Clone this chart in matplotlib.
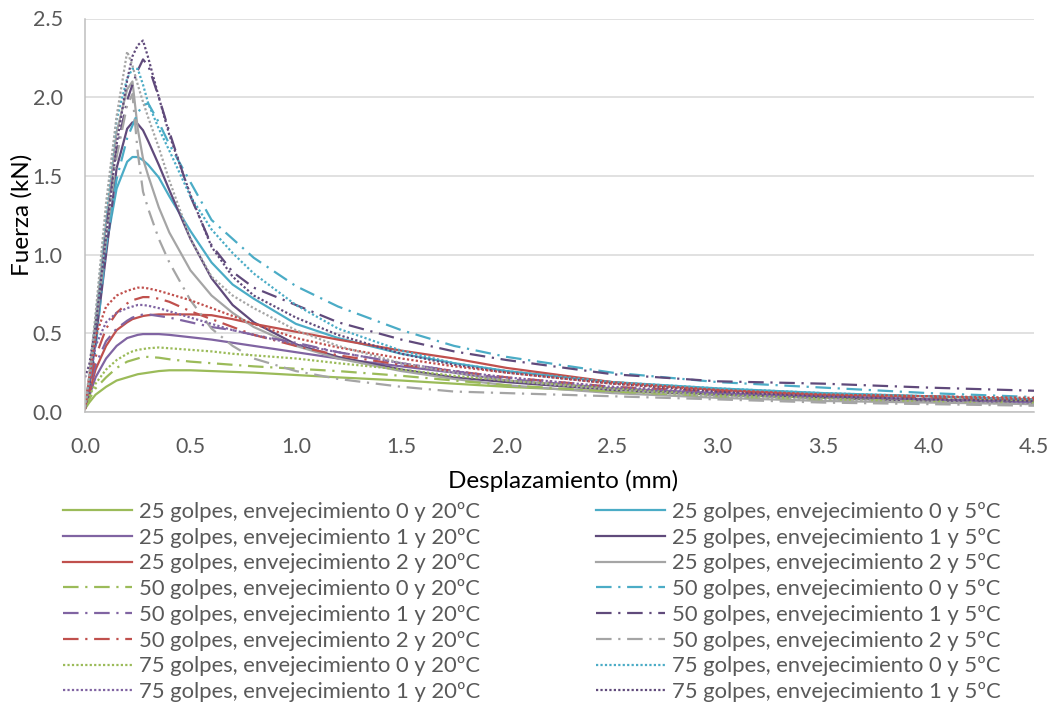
import matplotlib
matplotlib.use("Agg")
import matplotlib.pyplot as plt
from matplotlib.ticker import FormatStrFormatter, MultipleLocator

plt.rcParams['font.family'] = ['Lato', 'DejaVu Sans']

# desplazamiento (mm) - same sampling for every curve
disp = [0, 0.02, 0.05, 0.1, 0.15, 0.2, 0.225, 0.25, 0.275, 0.3, 0.35, 0.4, 0.5,
        0.6, 0.7, 0.8, 1.0, 1.2, 1.5, 1.75, 2.0, 2.5, 3.0, 3.5, 4.0, 4.5]

# fuerza (kN), 20 ºC
f25_e0_20 = [0.02, 0.06, 0.11, 0.16, 0.20, 0.22, 0.23, 0.24, 0.245, 0.25, 0.26, 0.265, 0.265,
             0.26, 0.255, 0.25, 0.235, 0.22, 0.20, 0.18, 0.16, 0.13, 0.11, 0.09, 0.08, 0.07]
f25_e1_20 = [0.02, 0.10, 0.22, 0.34, 0.42, 0.47, 0.48, 0.49, 0.495, 0.495, 0.495, 0.49, 0.475,
             0.46, 0.44, 0.42, 0.38, 0.34, 0.29, 0.25, 0.20, 0.15, 0.12, 0.10, 0.08, 0.06]
f25_e2_20 = [0.02, 0.12, 0.27, 0.42, 0.52, 0.57, 0.59, 0.60, 0.61, 0.615, 0.62, 0.62, 0.62,
             0.615, 0.59, 0.56, 0.51, 0.46, 0.39, 0.34, 0.28, 0.19, 0.14, 0.11, 0.10, 0.08]
f50_e0_20 = [0.02, 0.08, 0.15, 0.22, 0.28, 0.32, 0.33, 0.34, 0.35, 0.35, 0.345, 0.335, 0.32,
             0.31, 0.30, 0.29, 0.275, 0.26, 0.23, 0.20, 0.17, 0.13, 0.10, 0.08, 0.07, 0.06]
f50_e1_20 = [0.02, 0.14, 0.30, 0.45, 0.53, 0.58, 0.60, 0.61, 0.62, 0.62, 0.61, 0.60, 0.57,
             0.54, 0.52, 0.49, 0.44, 0.38, 0.31, 0.26, 0.21, 0.15, 0.11, 0.09, 0.08, 0.06]
f50_e2_20 = [0.02, 0.16, 0.35, 0.53, 0.63, 0.69, 0.71, 0.72, 0.73, 0.73, 0.72, 0.70, 0.64,
             0.59, 0.54, 0.49, 0.42, 0.36, 0.30, 0.26, 0.22, 0.16, 0.13, 0.11, 0.09, 0.08]
f75_e0_20 = [0.02, 0.10, 0.18, 0.27, 0.33, 0.37, 0.385, 0.395, 0.40, 0.405, 0.41, 0.405, 0.395,
             0.385, 0.37, 0.36, 0.34, 0.31, 0.27, 0.23, 0.20, 0.15, 0.11, 0.09, 0.08, 0.07]
f75_e1_20 = [0.02, 0.20, 0.42, 0.57, 0.63, 0.66, 0.67, 0.68, 0.68, 0.675, 0.66, 0.64, 0.60,
             0.56, 0.52, 0.49, 0.43, 0.38, 0.31, 0.26, 0.22, 0.16, 0.12, 0.10, 0.08, 0.06]
f75_e2_20 = [0.02, 0.22, 0.48, 0.67, 0.74, 0.77, 0.78, 0.79, 0.79, 0.785, 0.77, 0.75, 0.71,
             0.66, 0.61, 0.56, 0.47, 0.41, 0.34, 0.29, 0.25, 0.18, 0.14, 0.11, 0.10, 0.09]

# fuerza (kN), 5 ºC
f25_e0_5 = [0.03, 0.18, 0.52, 1.05, 1.42, 1.59, 1.62, 1.62, 1.60, 1.57, 1.49, 1.37, 1.15,
            0.95, 0.81, 0.72, 0.56, 0.47, 0.37, 0.31, 0.26, 0.19, 0.15, 0.12, 0.10, 0.08]
f25_e1_5 = [0.03, 0.15, 0.45, 1.00, 1.55, 1.80, 1.84, 1.83, 1.79, 1.72, 1.57, 1.41, 1.10,
            0.85, 0.68, 0.57, 0.43, 0.35, 0.27, 0.22, 0.19, 0.14, 0.11, 0.09, 0.07, 0.06]
f25_e2_5 = [0.03, 0.22, 0.58, 1.20, 1.78, 2.05, 2.10, 1.80, 1.61, 1.50, 1.30, 1.14, 0.90,
            0.74, 0.63, 0.54, 0.42, 0.34, 0.26, 0.21, 0.17, 0.12, 0.09, 0.07, 0.06, 0.05]
f50_e0_5 = [0.03, 0.12, 0.40, 1.05, 1.48, 1.74, 1.82, 1.90, 1.95, 1.96, 1.84, 1.70, 1.46,
            1.22, 1.10, 0.98, 0.80, 0.67, 0.52, 0.42, 0.35, 0.25, 0.19, 0.155, 0.12, 0.095]
f50_e1_5 = [0.03, 0.12, 0.45, 1.15, 1.66, 1.98, 2.08, 2.17, 2.24, 2.20, 2.00, 1.78, 1.37,
            1.06, 0.89, 0.79, 0.68, 0.57, 0.46, 0.385, 0.33, 0.24, 0.195, 0.18, 0.155, 0.135]
f50_e2_5 = [0.03, 0.18, 0.52, 1.10, 1.62, 1.95, 2.02, 1.65, 1.40, 1.29, 1.10, 0.95, 0.71,
            0.53, 0.42, 0.34, 0.26, 0.21, 0.16, 0.13, 0.12, 0.10, 0.08, 0.06, 0.05, 0.04]
f75_e0_5 = [0.03, 0.20, 0.60, 1.28, 1.86, 2.12, 2.18, 2.18, 2.08, 1.96, 1.80, 1.66, 1.37,
            1.16, 1.01, 0.88, 0.68, 0.53, 0.39, 0.31, 0.26, 0.19, 0.15, 0.12, 0.10, 0.08]
f75_e1_5 = [0.22, 0.30, 0.55, 1.11, 1.70, 2.11, 2.26, 2.33, 2.36, 2.25, 2.00, 1.76, 1.38,
            1.05, 0.86, 0.74, 0.60, 0.49, 0.37, 0.30, 0.25, 0.18, 0.13, 0.10, 0.08, 0.07]
f75_e2_5 = [0.03, 0.24, 0.62, 1.33, 1.88, 2.29, 2.20, 2.08, 1.97, 1.87, 1.68, 1.47, 1.10,
            0.86, 0.74, 0.66, 0.52, 0.42, 0.31, 0.25, 0.20, 0.14, 0.10, 0.08, 0.065, 0.05]

green, purple, red = '#9BBB59', '#8064A2', '#C0504D'
cyan, dpurple, gray = '#4BACC6', '#604A7B', '#A5A5A5'

solid = dict(ls='-', lw=1.6)
dashdot = dict(ls=(0, (7, 3, 1, 3)), lw=1.6)
dotted = dict(ls=(0, (1, 1)), lw=1.6)

fig = plt.figure(figsize=(10.52, 7.04), dpi=100)
ax = fig.add_axes([85 / 1052, 1 - 412 / 704, 949 / 1052, 393.5 / 704])

series = [
    (f25_e0_20, green, solid, '25 golpes, envejecimiento 0 y 20ºC'),
    (f25_e0_5, cyan, solid, '25 golpes, envejecimiento 0 y 5ºC'),
    (f25_e1_20, purple, solid, '25 golpes, envejecimiento 1 y 20ºC'),
    (f25_e1_5, dpurple, solid, '25 golpes, envejecimiento 1 y 5ºC'),
    (f25_e2_20, red, solid, '25 golpes, envejecimiento 2 y 20ºC'),
    (f25_e2_5, gray, solid, '25 golpes, envejecimiento 2 y 5ºC'),
    (f50_e0_20, green, dashdot, '50 golpes, envejecimiento 0 y 20ºC'),
    (f50_e0_5, cyan, dashdot, '50 golpes, envejecimiento 0 y 5ºC'),
    (f50_e1_20, purple, dashdot, '50 golpes, envejecimiento 1 y 20ºC'),
    (f50_e1_5, dpurple, dashdot, '50 golpes, envejecimiento 1 y 5ºC'),
    (f50_e2_20, red, dashdot, '50 golpes, envejecimiento 2 y 20ºC'),
    (f50_e2_5, gray, dashdot, '50 golpes, envejecimiento 2 y 5ºC'),
    (f75_e0_20, green, dotted, '75 golpes, envejecimiento 0 y 20ºC'),
    (f75_e0_5, cyan, dotted, '75 golpes, envejecimiento 0 y 5ºC'),
    (f75_e1_20, purple, dotted, '75 golpes, envejecimiento 1 y 20ºC'),
    (f75_e1_5, dpurple, dotted, '75 golpes, envejecimiento 1 y 5ºC'),
    (f75_e2_20, red, dotted, '75 golpes, envejecimiento 2 y 20ºC'),
    (f75_e2_5, gray, dotted, '75 golpes, envejecimiento 2 y 5ºC'),
]

lines = []
for vals, col, style, lab in series:
    ln, = ax.plot(disp, vals, color=col, label=lab, **style)
    lines.append(ln)

ax.set_xlim(0, 4.5)
ax.set_ylim(0, 2.5)
ax.xaxis.set_major_locator(MultipleLocator(0.5))
ax.yaxis.set_major_locator(MultipleLocator(0.5))
ax.xaxis.set_major_formatter(FormatStrFormatter('%.1f'))
ax.yaxis.set_major_formatter(FormatStrFormatter('%.1f'))
ax.grid(axis='y', color='#D9D9D9', lw=1.1)
ax.set_axisbelow(True)
for s in ['top', 'right']:
    ax.spines[s].set_visible(False)
for s in ['left', 'bottom']:
    ax.spines[s].set_color('#BFBFBF')
    ax.spines[s].set_linewidth(1.1)
ax.tick_params(axis='both', length=0, labelsize=15.5, labelcolor='#595959')
ax.tick_params(axis='y', pad=16)
ax.tick_params(axis='x', pad=18)

ax.set_xlabel('Desplazamiento (mm)', fontsize=17.5, color='black')
ax.xaxis.set_label_coords((563 - 85) / 949, -(481 - 412) / 393.5)
ax.xaxis.label.set_va('center')
ax.set_ylabel('Fuerza (kN)', fontsize=17.5, color='black')
ax.yaxis.set_label_coords((22 - 85) / 949, (412 - 215) / 393.5)
ax.yaxis.label.set_va('center')

# Excel legend shows 12 entries in two columns (20 ºC left, 5 ºC right)
left_idx = [0, 2, 4, 6, 8, 10, 12, 14]
right_idx = [1, 3, 5, 7, 9, 11, 13, 15]
leg_kw = dict(loc='upper left', frameon=False, fontsize=15.8, borderpad=0,
              borderaxespad=0, handlelength=3.15, handletextpad=0.33,
              labelspacing=0.26, labelcolor='#595959')
leg1 = fig.legend([lines[i] for i in left_idx], [series[i][3] for i in left_idx],
                  bbox_to_anchor=(63 / 1052, 1 - 502 / 704), **leg_kw)
leg2 = fig.legend([lines[i] for i in right_idx], [series[i][3] for i in right_idx],
                  bbox_to_anchor=(596 / 1052, 1 - 502 / 704), **leg_kw)

fig.savefig('out.png', dpi=100, facecolor='white')
